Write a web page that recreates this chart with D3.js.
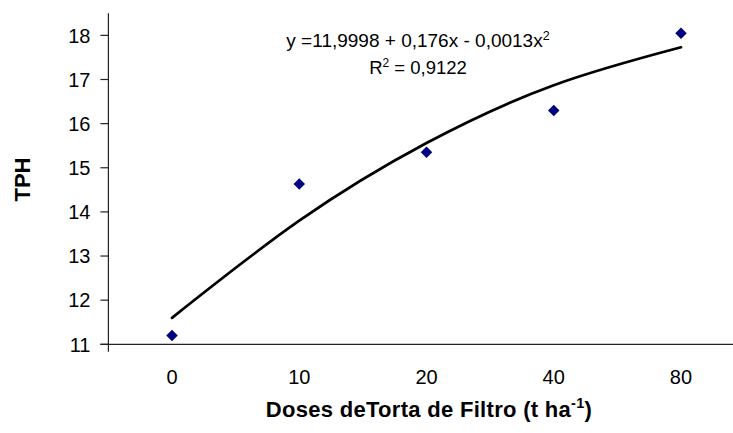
<!DOCTYPE html>
<html>
<head>
<meta charset="utf-8">
<script src="https://cdn.jsdelivr.net/npm/d3@7"></script>
<style>
  html, body { margin: 0; padding: 0; background: #fff; }
  svg { display: block; font-family: "Liberation Sans", Arial, sans-serif; }
</style>
</head>
<body>
<svg id="chart" width="733" height="433"></svg>
<script>
// ---- data ----
const categories = ["0", "10", "20", "40", "80"];
const tphValues = [11.2, 14.63, 15.35, 16.30, 18.05];
const trendValues = [11.60, 13.80, 15.56, 16.87, 17.73];
const yTicks = [11, 12, 13, 14, 15, 16, 17, 18];
const yDomain = [11, 18.5];
const equationText = "y =11,9998 + 0,176x - 0,0013x";
const r2Text = " = 0,9122";
const yTitle = "TPH";
const xTitle = "Doses deTorta de Filtro (t ha";

// ---- layout ----
const svg = d3.select("#chart");
const plotLeft = 108.4, plotRight = 744.6, plotTop = 13.3, plotBottom = 344.3;

const x = d3.scalePoint().domain(categories).range([plotLeft, plotRight]).padding(0.5);
const y = d3.scaleLinear().domain(yDomain).range([plotBottom, plotTop]);

const axisColor = "#222";

// y axis line (extends a bit below x axis)
svg.append("line")
  .attr("x1", plotLeft).attr("x2", plotLeft)
  .attr("y1", plotTop).attr("y2", plotBottom + 7.5)
  .attr("stroke", axisColor).attr("stroke-width", 1.2);

// y ticks & labels
const yAxis = svg.append("g");
yTicks.forEach(v => {
  yAxis.append("line")
    .attr("x1", plotLeft - 8).attr("x2", plotLeft)
    .attr("y1", y(v)).attr("y2", y(v))
    .attr("stroke", axisColor).attr("stroke-width", 1.2);
  yAxis.append("text")
    .attr("x", plotLeft - 18).attr("y", y(v))
    .attr("dy", "0.36em")
    .attr("text-anchor", "end")
    .attr("font-size", 20)
    .attr("fill", "#000")
    .text(v);
});

// x axis line
svg.append("line")
  .attr("x1", plotLeft - 8).attr("x2", plotRight)
  .attr("y1", plotBottom).attr("y2", plotBottom)
  .attr("stroke", axisColor).attr("stroke-width", 1.2);

// x labels
svg.append("g").selectAll("text")
  .data(categories).join("text")
  .attr("x", d => x(d))
  .attr("y", 384)
  .attr("text-anchor", "middle")
  .attr("font-size", 20)
  .attr("fill", "#000")
  .text(d => d);

// trend line
const line = d3.line()
  .x((d, i) => x(categories[i]))
  .y(d => y(d))
  .curve(d3.curveNatural);
svg.append("path")
  .datum(trendValues)
  .attr("d", line)
  .attr("fill", "none")
  .attr("stroke", "#000")
  .attr("stroke-width", 2.7)
  .attr("stroke-linecap", "round");

// points (diamonds)
svg.append("g").selectAll("path")
  .data(tphValues).join("path")
  .attr("d", d3.symbol().type(d3.symbolSquare).size(66))
  .attr("transform", (d, i) => `translate(${x(categories[i])},${y(d)}) rotate(45)`)
  .attr("fill", "#000080");

// equation
const eq = svg.append("text")
  .attr("x", 418).attr("y", 47)
  .attr("text-anchor", "middle")
  .attr("font-size", 19)
  .attr("fill", "#000");
eq.append("tspan").text(equationText);
eq.append("tspan").attr("font-size", 12.5).attr("dy", -7).text("2");

const r2 = svg.append("text")
  .attr("x", 418).attr("y", 74)
  .attr("text-anchor", "middle")
  .attr("font-size", 18.5)
  .attr("fill", "#000");
r2.append("tspan").text("R");
r2.append("tspan").attr("font-size", 12).attr("dy", -7).text("2");
r2.append("tspan").attr("dy", 7).text(r2Text);

// axis titles
svg.append("text")
  .attr("transform", "translate(30,179.5) rotate(-90)")
  .attr("text-anchor", "middle")
  .attr("font-size", 22)
  .attr("font-weight", "bold")
  .attr("fill", "#000")
  .text(yTitle);

const xt = svg.append("text")
  .attr("x", 429).attr("y", 417)
  .attr("text-anchor", "middle")
  .attr("font-size", 22)
  .attr("font-weight", "bold")
  .attr("letter-spacing", "0.3px")
  .attr("fill", "#000");
xt.append("tspan").text(xTitle);
xt.append("tspan").attr("font-size", 14.5).attr("dy", -9).text("-1");
xt.append("tspan").attr("dy", 9).text(")");
</script>
</body>
</html>
